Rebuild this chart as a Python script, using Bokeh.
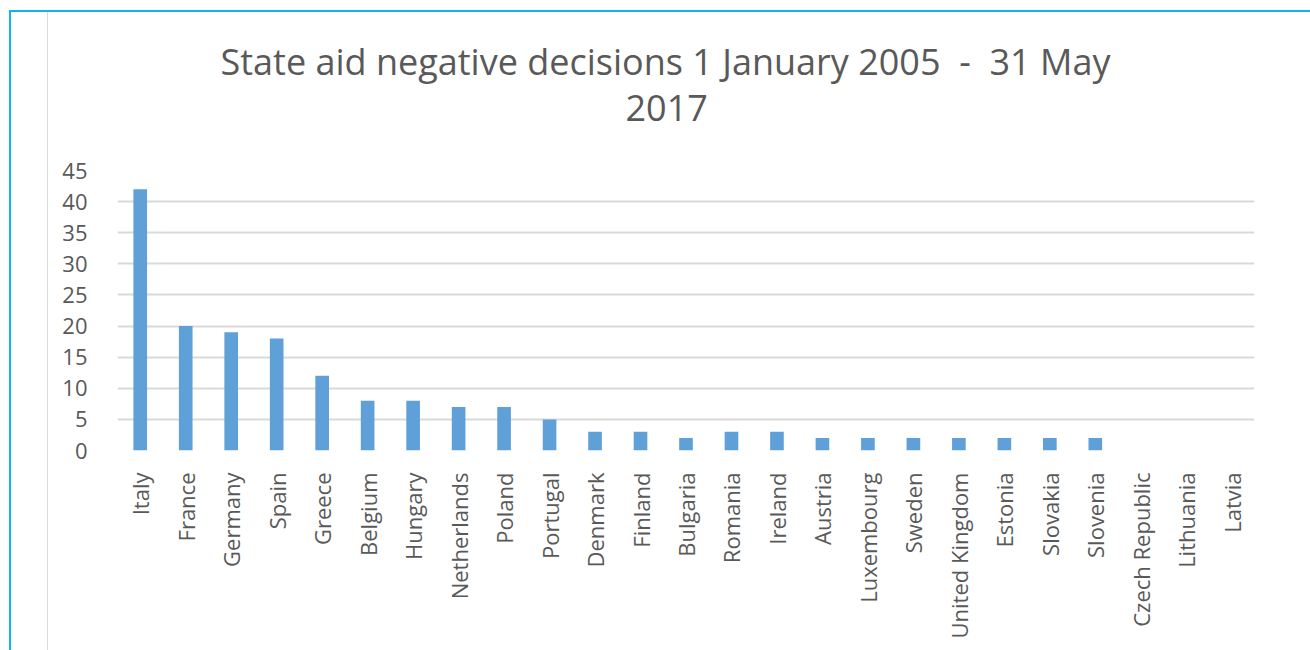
from bokeh.plotting import figure
from bokeh.models import Title, Column
from bokeh.embed import file_html
from bokeh.resources import INLINE

countries = ["Italy", "France", "Germany", "Spain", "Greece", "Belgium", "Hungary",
             "Netherlands", "Poland", "Portugal", "Denmark", "Finland", "Bulgaria",
             "Romania", "Ireland", "Austria", "Luxembourg", "Sweden", "United Kingdom",
             "Estonia", "Slovakia", "Slovenia", "Czech Republic", "Lithuania", "Latvia"]
decisions = [42, 20, 19, 18, 12, 8, 8, 7, 7, 5, 3, 3, 2, 3, 3, 2, 2, 2, 2, 2, 2, 2, 0, 0, 0]
y_ticks = [0, 5, 10, 15, 20, 25, 30, 35, 40, 45]
title_line1 = "State aid negative decisions 1 January 2005\u00a0\u00a0-\u00a0\u00a031\u00a0May"
title_line2 = "2017"

FONT = "Open Sans"
TXT = "#595959"

p = figure(x_range=countries, y_range=(0, 45), width=1262, height=639,
           output_backend="svg", toolbar_location=None,
           min_border_left=69, min_border_right=56, min_border_top=158, min_border_bottom=200)
p.vbar(x=countries, top=decisions, width=0.3, fill_color="#5fa0d8", line_color=None)

p.outline_line_color = None
p.xgrid.grid_line_color = None
p.ygrid.grid_line_color = "#d9d9d9"
p.ygrid.grid_line_width = 2
p.yaxis.ticker = y_ticks
p.yaxis.axis_line_color = None
p.yaxis.major_tick_line_color = None
p.yaxis.minor_tick_line_color = None
p.yaxis.major_label_text_font = FONT
p.yaxis.major_label_text_font_size = "22px"
p.yaxis.major_label_text_color = TXT
p.yaxis.major_label_standoff = 24
p.xaxis.axis_line_color = None
p.xaxis.major_tick_line_color = None
p.xaxis.major_label_orientation = 1.5708
p.xaxis.major_label_text_font = FONT
p.xaxis.major_label_text_font_size = "22px"
p.xaxis.major_label_text_color = TXT
p.xaxis.major_label_standoff = 16

t2 = Title(text=title_line2, align="left", text_font=FONT, text_font_size="36px",
           text_color=TXT, text_font_style="normal", standoff=100, offset=508)
t1 = Title(text=title_line1, align="left", text_font=FONT, text_font_size="36px",
           text_color=TXT, text_font_style="normal", standoff=-86, offset=103)
p.add_layout(t2, "above")
p.add_layout(t1, "above")
p.styles = {"border-left": "1px solid #d9d9d9"}

root = Column(p, margin=(0, 0, 0, 0),
              styles={"position": "absolute", "left": "9px", "top": "10px",
                      "border-top": "2px solid #14b4ea", "border-left": "2px solid #14b4ea",
                      "padding-left": "36px", "width": "1301px", "height": "640px"})
open("out.html", "w").write(file_html(root, INLINE))
